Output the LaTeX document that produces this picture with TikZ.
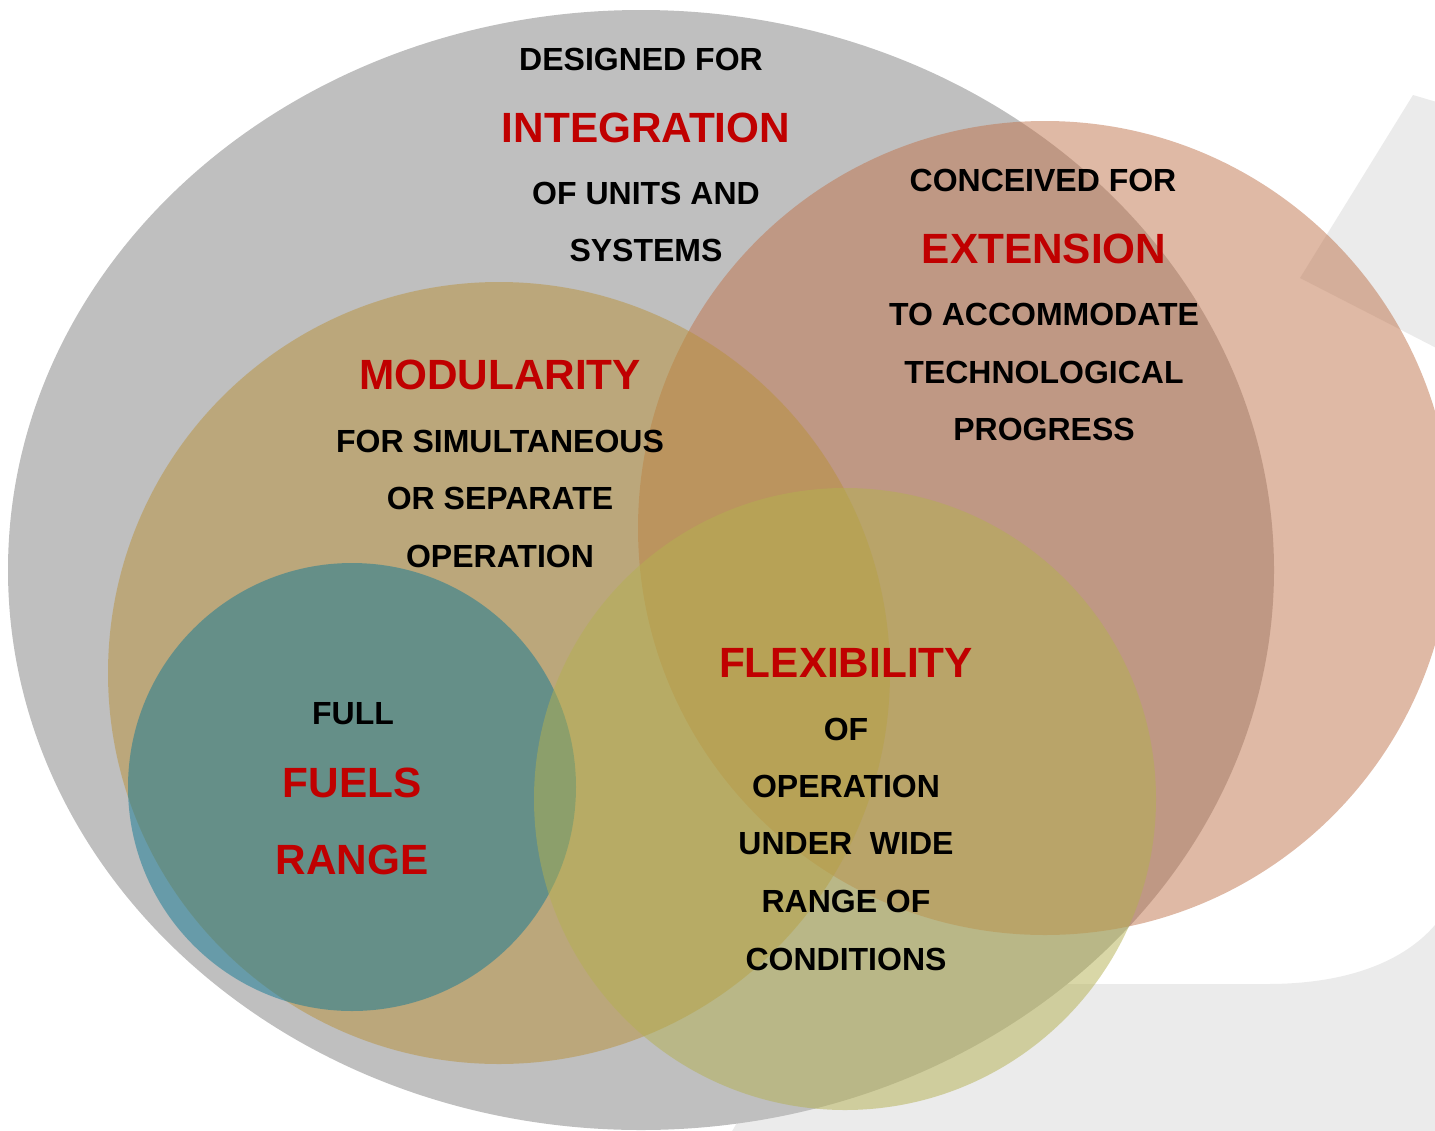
\documentclass[tikz,border=0pt]{standalone}
\usepackage{fontspec}
\setmainfont{Liberation Sans}
\usepackage{tikz}

\definecolor{hullgrey}{RGB}{191,191,191}
\definecolor{logogrey}{RGB}{235,235,235}
\definecolor{extcol}{RGB}{191,115,75}
\definecolor{modcol}{RGB}{185,145,57}
\definecolor{fuelcol}{RGB}{17,121,149}
\definecolor{flexcol}{RGB}{180,176,80}
\definecolor{keyred}{RGB}{192,0,0}

\tikzset{
  plain/.style={anchor=base, inner sep=0pt, font=\fontsize{32}{32}\selectfont\bfseries},
  keyword/.style={anchor=base, inner sep=0pt, text=keyred, font=\fontsize{42.3}{42}\selectfont\bfseries},
  blob/.style={fill opacity=0.5},
}

\begin{document}
\begin{tikzpicture}[x=1pt,y=-1pt]
            \useasboundingbox (0,0) rectangle (1435,1130);

            % faint logo behind the sets
            \begin{scope}
            \clip (0,0) rectangle (1435,1130);
            \fill[logogrey] (1413,95) -- (1450,106) -- (1450,355) -- (1300,278) -- cycle;
            \fill[logogrey] (727,1140) -- (817,984) -- (1267,984)
                .. controls (1350,984) and (1405,960) .. (1435,925)
                -- (1450,910) -- (1450,1140) -- cycle;
            \end{scope}

            \coordinate (integ) at (641,570);
            \coordinate (ext) at (1045,528);
            \coordinate (mod) at (499,673);
            \coordinate (fuel) at (352,787);
            \coordinate (flex) at (845,799);

            \fill[hullgrey] (integ) ellipse [x radius=633pt, y radius=560pt];
            \fill[extcol,blob] (ext) circle (407pt);
            \fill[modcol,blob] (mod) circle (391pt);
            \fill[fuelcol,blob] (fuel) circle (224pt);
            \fill[flexcol,blob] (flex) circle (311pt);

            % integration
            \node[plain] (integ1) at (641,70) {DESIGNED FOR};
            \node[keyword] (integ2) at (646,142) {INTEGRATION};
            \node[plain] (integ3) at (646,204) {OF UNITS AND};
            \node[plain] (integ4) at (646,261) {SYSTEMS};

            % extension
            \node[plain] (ext1) at (1043,191) {CONCEIVED FOR};
            \node[keyword] (ext2) at (1044,263) {EXTENSION};
            \node[plain] (ext3) at (1044,325) {TO ACCOMMODATE};
            \node[plain] (ext4) at (1044,383) {TECHNOLOGICAL};
            \node[plain] (ext5) at (1044,440) {PROGRESS};

            % modularity
            \node[keyword] (mod1) at (500,389) {MODULARITY};
            \node[plain] (mod2) at (500,452) {FOR SIMULTANEOUS};
            \node[plain] (mod3) at (500,509) {OR SEPARATE};
            \node[plain] (mod4) at (500,567) {OPERATION};

            % fuels
            \node[plain] (fuel1) at (353,724) {FULL};
            \node[keyword] (fuel2) at (352,797) {FUELS};
            \node[keyword] (fuel3) at (352,874) {RANGE};

            % flexibility
            \node[keyword] (flex1) at (846,677) {FLEXIBILITY};
            \node[plain] (flex2) at (846,740) {OF};
            \node[plain] (flex3) at (846,797) {OPERATION};
            \node[plain] (flex4) at (846,854) {UNDER\ \ WIDE};
            \node[plain] (flex5) at (846,912) {RANGE OF};
            \node[plain] (flex6) at (846,970) {CONDITIONS};
\end{tikzpicture}
\end{document}
